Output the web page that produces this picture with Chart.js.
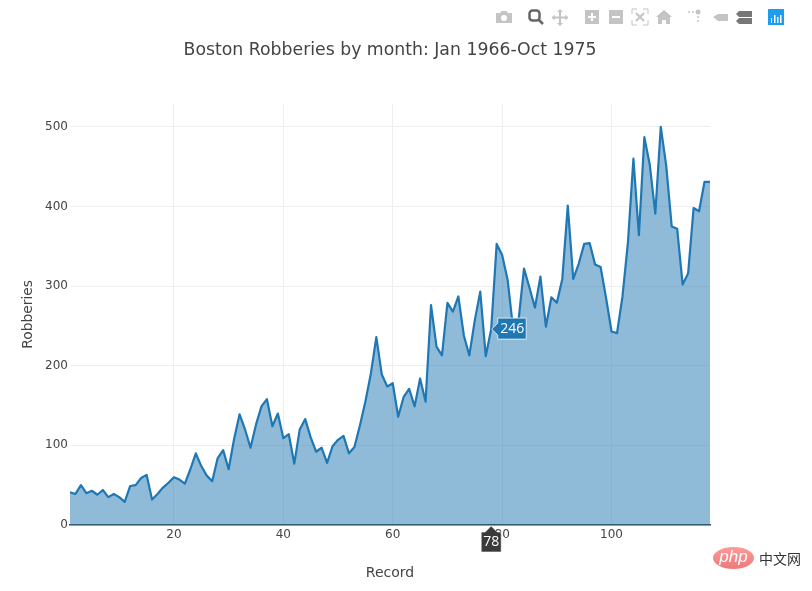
<!DOCTYPE html>
<html>
<head>
<meta charset="utf-8">
<script src="https://cdn.jsdelivr.net/npm/chart.js@4"></script>
<style>
html,body{margin:0;padding:0;background:#fff;overflow:hidden}
#wrap{position:relative;width:812px;height:591px}
canvas{position:absolute;left:0;top:0}
#bar{position:absolute;left:0;top:0}
#pill{position:absolute;left:713px;top:547px;width:41px;height:22px;border-radius:50%;background:linear-gradient(#f99,#f07878);color:#fff;font:italic 17px/20px "Liberation Sans",sans-serif;text-align:center}
#cn{position:absolute;left:759px;top:548px;color:#333;font:14px/20px "Noto Sans CJK SC",sans-serif;white-space:nowrap}
</style>
</head>
<body>
<div id="wrap">
<canvas id="c" width="812" height="591"></canvas>
<svg id="bar" width="812" height="35">
<g fill="#c4c4c4">
<path d="M496 13h4l1.500-2h5l1.500 2h4v10h-16z"/><circle cx="504" cy="18" r="3" fill="#fff"/>
<path d="M560 9l3 3h-2v4.500h4.500v-2l3 3-3 3v-2H561v4.500h2l-3 3-3-3h2v-4.500h-4.500v2l-3-3 3-3v2H559V12h-2z"/>
<path fill-rule="evenodd" d="M585 10h14v14h-14zM591 13v3h-3v2h3v3h2v-3h3v-2h-3v-3z"/>
<path fill-rule="evenodd" d="M609 10h14v14h-14zM612 16v2h8v-2z"/>
<path d="M664 10l8 7h-2v7h-4v-4h-4v4h-4v-7h-2z"/>
<path d="M713 17l5-3h10v7h-10z"/>
<circle cx="698" cy="12" r="2.500"/><circle cx="689" cy="12" r="1"/><circle cx="693" cy="12" r="1"/><circle cx="698" cy="17" r="1"/><circle cx="698" cy="21" r="1"/>
</g>
<g fill="none" stroke="#c4c4c4" stroke-width="1">
<path d="M632 14v-5h5M643 9h5v5M648 20v5h-5M637 25h-5v-5"/>
<path d="M636 13l8 8M644 13l-8 8" stroke-width="2"/>
</g>
<g fill="none" stroke="#666" stroke-width="2.500"><rect x="529.500" y="10.500" width="10" height="10" rx="3"/><path d="M539 20l4 4"/></g>
<g fill="#777"><path d="M739 11h13v6h-13l-3-3z"/><path d="M739 18h13v6h-13l-3-3z"/></g>
<rect x="768" y="9" width="16" height="16" fill="#1f9cf0"/>
<g fill="#fff"><rect x="771" y="18" width="1" height="5"/><rect x="774" y="15" width="1.500" height="8"/><rect x="777" y="17" width="1.500" height="6"/><rect x="780" y="15" width="1.500" height="8"/></g>
</svg>
<div id="pill">php</div>
<div id="cn">中文网</div>
</div>
<script>
const chartTitle = "Boston Robberies by month: Jan 1966-Oct 1975";
const xTitle = "Record";
const yTitle = "Robberies";
const records = [1,2,3,4,5,6,7,8,9,10,11,12,13,14,15,16,17,18,19,20,21,22,23,24,25,26,27,28,29,30,31,32,33,34,35,36,37,38,39,40,41,42,43,44,45,46,47,48,49,50,51,52,53,54,55,56,57,58,59,60,61,62,63,64,65,66,67,68,69,70,71,72,73,74,75,76,77,78,79,80,81,82,83,84,85,86,87,88,89,90,91,92,93,94,95,96,97,98,99,100,101,102,103,104,105,106,107,108,109,110,111,112,113,114,115,116,117,118];
const robberies = [41,39,50,40,43,38,44,35,39,35,29,49,50,59,63,32,39,47,53,60,57,52,70,90,74,62,55,84,94,70,108,139,120,97,126,149,158,124,140,109,114,77,120,133,110,92,97,78,99,107,112,90,98,125,155,190,236,189,174,178,136,161,171,149,184,155,276,224,213,279,268,287,238,213,257,293,212,246,353,339,308,247,257,322,298,273,312,249,286,279,309,401,309,328,353,354,327,324,285,243,241,287,355,460,364,487,452,391,500,451,375,372,302,316,398,394,431,431];
const xTicks = [20,40,60,80,100];
const yTicks = [0,100,200,300,400,500];
const hoverIndex = 77;

const hoverLabels = {
  id:'hoverLabels',
  afterDraw(chart){
    const {ctx,scales:{x,y}} = chart;
    const px = x.getPixelForValue(records[hoverIndex]);
    const py = y.getPixelForValue(robberies[hoverIndex]);
    const base = y.getPixelForValue(0);
    ctx.save();
    ctx.font = '14px "Open Sans","Liberation Sans",sans-serif';
    ctx.textAlign='center';ctx.textBaseline='middle';
    ctx.beginPath();
    ctx.moveTo(px+0.5,py);ctx.lineTo(px+6.5,py-6);ctx.lineTo(px+6.5,py-11);ctx.lineTo(px+35,py-11);
    ctx.lineTo(px+35,py+10);ctx.lineTo(px+6.5,py+10);ctx.lineTo(px+6.5,py+6);ctx.closePath();
    ctx.fillStyle='#1f77b4';ctx.fill();ctx.strokeStyle='rgba(255,255,255,0.75)';ctx.lineWidth=1;ctx.stroke();
    ctx.fillStyle='#fff';ctx.fillText(String(robberies[hoverIndex]),px+21,py);
    ctx.beginPath();
    ctx.moveTo(px,base+1);ctx.lineTo(px+6,base+7);ctx.lineTo(px+10,base+7);ctx.lineTo(px+10,base+27);
    ctx.lineTo(px-10,base+27);ctx.lineTo(px-10,base+7);ctx.lineTo(px-6,base+7);ctx.closePath();
    ctx.fillStyle='#3a3a3a';ctx.fill();ctx.strokeStyle='rgba(255,255,255,0.6)';ctx.stroke();
    ctx.fillStyle='#fff';ctx.fillText(String(records[hoverIndex]),px,base+17);
    ctx.restore();
  }
};

const font = {family:'"DejaVu Sans",Verdana,sans-serif'};
new Chart(document.getElementById('c'),{
  type:'line',
  data:{datasets:[{
    data:records.map((r,i)=>({x:r,y:robberies[i]})),
    borderColor:'#1f77b4',borderWidth:2.2,backgroundColor:'rgba(31,119,180,0.5)',
    fill:'origin',pointRadius:0,tension:0,borderJoinStyle:'round'
  }]},
  options:{
    responsive:false,animation:false,devicePixelRatio:1,
    layout:{padding:{left:20,right:102,top:40,bottom:9}},
    plugins:{
      legend:{display:false},tooltip:{enabled:false},
      title:{display:true,text:chartTitle,fullSize:false,color:'#444',font:{...font,size:17.300,weight:'normal'},padding:{top:0,bottom:43}}
    },
    scales:{
      x:{type:'linear',min:1,max:118,
        afterBuildTicks(a){a.ticks=xTicks.map(v=>({value:v}));},
        afterFit(a){a.height=57;},
        grid:{color:'#eee',drawTicks:false},
        border:{display:true,color:'#444',width:1.500},
        ticks:{color:'#444',font:{...font,size:12},padding:3,maxRotation:0},
        title:{display:true,text:xTitle,color:'#444',font:{...font,size:14},padding:{top:17,bottom:0}}
      },
      y:{min:0,max:529,
        afterBuildTicks(a){a.ticks=yTicks.map(v=>({value:v}));},
        afterFit(a){a.width=50;},
        grid:{color:'#eee',drawTicks:false},
        border:{display:false},
        ticks:{color:'#444',font:{...font,size:12},padding:2},
        title:{display:true,text:yTitle,color:'#444',font:{...font,size:13.800},padding:0}
      }
    }
  },
  plugins:[hoverLabels]
});
</script>
</body>
</html>
